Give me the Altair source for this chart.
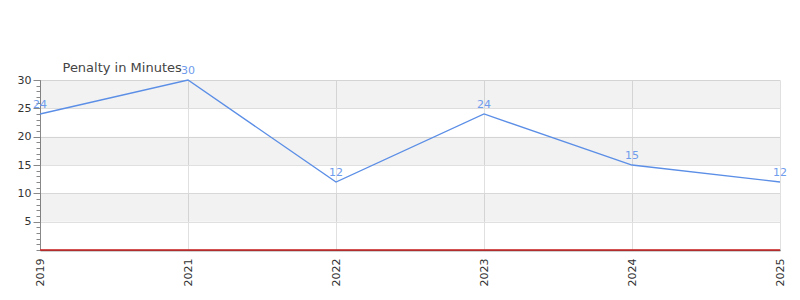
import altair as alt
import pandas as pd

years = ["2019", "2021", "2022", "2023", "2024", "2025"]
penalty = [24, 30, 12, 24, 15, 12]
major_ticks = [5, 10, 15, 20, 25, 30]
minor_ticks = list(range(0, 31))
band_lo = [5, 15, 25]
band_hi = [10, 20, 30]

df = pd.DataFrame({"year": years, "penalty": penalty})
bands = pd.DataFrame({"lo": band_lo, "hi": band_hi})
zero = pd.DataFrame({"z": [0]})

FONT = "DejaVu Sans"
LINE = "#5b8ee6"
TEXT = "#6f9cec"

yscale = alt.Scale(domain=[0, 30], nice=False, zero=True)
xscale = alt.Scale(type="point", padding=0, domain=years)

xaxis = alt.Axis(
    labelAngle=-90, title=None, labelFont=FONT, labelFontSize=11,
    labelColor="#333333", tickSize=0, domainColor="#444444",
    domainWidth=1.5, gridColor="#e0e0e0", grid=True, labelPadding=8)

band_layer = alt.Chart(bands).mark_rect(color="#000000", opacity=0.05).encode(
    y=alt.Y("lo:Q", scale=yscale, axis=alt.Axis(
        values=minor_ticks, tickSize=4, labels=False, domain=False, grid=False,
        title=None, orient="left", tickColor="#888888")),
    y2="hi:Q",
    x=alt.value(0),
    x2=alt.value(740),
)

line = alt.Chart(df).mark_line(color=LINE, strokeWidth=1.3).encode(
    x=alt.X("year:O", scale=xscale, sort=years, axis=xaxis),
    y=alt.Y("penalty:Q", scale=yscale, axis=alt.Axis(
        values=major_ticks, tickSize=7, title="Penalty in Minutes",
        titleAngle=0, titleAlign="left", titleBaseline="bottom",
        titleX=22, titleY=-6, titleFont=FONT, titleFontSize=13,
        titleFontWeight="normal", titleColor="#444444",
        labelFont=FONT, labelFontSize=11, labelColor="#333333",
        domainColor="#888888", tickColor="#888888", grid=True,
        gridColor="#e0e0e0", orient="left", labelPadding=2)),
)

labels = alt.Chart(df).mark_text(color=TEXT, dy=-9, font=FONT, fontSize=11).encode(
    x=alt.X("year:O", scale=xscale, sort=years, axis=xaxis),
    y=alt.Y("penalty:Q", scale=yscale, axis=None),
    text="penalty:Q",
)

zero_rule = alt.Chart(zero).mark_rule(color="#d62728", strokeWidth=1.5).encode(
    y=alt.Y("z:Q", scale=yscale, axis=None),
)

chart = alt.layer(band_layer, line, zero_rule, labels).resolve_axis(
    y="independent"
).properties(
    width=740,
    height=170,
    autosize=alt.AutoSizeParams(type="none"),
    padding={"left": 40, "top": 80, "right": 20, "bottom": 50},
).configure_view(stroke=None)

chart.save("out.html", embed_options={"renderer": "svg", "actions": False})
